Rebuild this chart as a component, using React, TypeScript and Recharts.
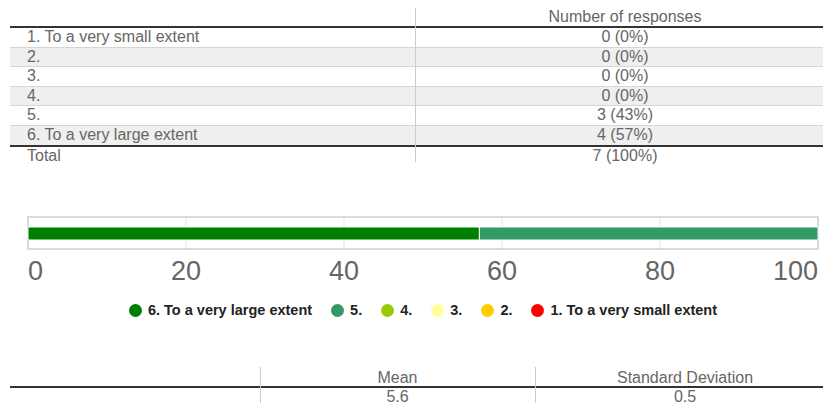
import React from "react";
import {
  BarChart,
  Bar,
  XAxis,
  YAxis,
  CartesianGrid,
  ReferenceArea,
} from "recharts";

// answer options as listed in the table (top to bottom)
const categories = [
  "1. To a very small extent",
  "2.",
  "3.",
  "4.",
  "5.",
  "6. To a very large extent",
];
const responseLabels = ["0 (0%)", "0 (0%)", "0 (0%)", "0 (0%)", "3 (43%)", "4 (57%)"];
const totalLabel = "7 (100%)";

// share of responses in percent, same order as categories
const shares = [0, 0, 0, 0, 42.86, 57.14];
const colors = ["#ff0000", "#ffcc00", "#ffff99", "#99cc00", "#339966", "#008000"];

const xTicks = [0, 20, 40, 60, 80, 100];

const meanLabel = "5.6";
const sdLabel = "0.5";

// stack from option 6 down to option 1
const stackOrder = [5, 4, 3, 2, 1, 0];
const chartRow: Record<string, number | string> = { name: "all" };
stackOrder.forEach((i) => {
  chartRow[`s${i}`] = shares[i];
});
const chartData = [chartRow];

const FONT = "'Liberation Sans', Arial, sans-serif";
const TEXT = "#666";

const AxisTick = ({ x, y, payload, index }: any) => {
  const last = xTicks.length - 1;
  const anchor = index === 0 ? "start" : index === last ? "end" : "middle";
  return (
    <text
      x={x}
      y={y}
      dy={23}
      textAnchor={anchor}
      fill={TEXT}
      fontSize={27}
      fontFamily={FONT}
    >
      {payload.value}
    </text>
  );
};

const ChartLegend = () => (
  <div
    style={{
      display: "flex",
      justifyContent: "center",
      alignItems: "center",
      fontFamily: FONT,
      fontWeight: "bold",
      fontSize: 14.5,
      color: "#222",
    }}
  >
    {stackOrder.map((i) => (
      <div key={i} style={{ display: "flex", alignItems: "center", marginRight: i === 0 ? 0 : 19 }}>
        <span
          style={{
            display: "inline-block",
            width: 13,
            height: 13,
            borderRadius: "50%",
            background: colors[i],
            marginRight: 6,
          }}
        />
        <span>{categories[i]}</span>
      </div>
    ))}
  </div>
);

const cell = (width: number, extra?: React.CSSProperties): React.CSSProperties => ({
  width,
  flexShrink: 0,
  boxSizing: "border-box",
  ...extra,
});

const rowStyle = (i: number): React.CSSProperties => ({
  height: 19.5,
  boxSizing: "border-box",
  borderBottom: i < categories.length - 1 ? "1px solid #d6d6d6" : "none",
  background: i % 2 === 1 ? "#efefef" : "#fff",
  display: "flex",
  alignItems: "center",
  fontSize: 16,
  color: TEXT,
});

export default function App() {
  return (
    <div
      style={{
        position: "absolute",
        left: 0,
        top: 0,
        width: 823,
        height: 403,
        overflow: "hidden",
        background: "#fff",
        fontFamily: FONT,
      }}
    >
      {/* response table */}
      <div style={{ position: "absolute", left: 10, top: 8, width: 813 }}>
        <div style={{ height: 18, display: "flex", alignItems: "center", fontSize: 16, color: TEXT }}>
          <div style={cell(405)} />
          <div style={cell(420, { textAlign: "center" })}>Number of responses</div>
        </div>
        <div style={{ height: 2, background: "#333" }} />
        {categories.map((c, i) => (
          <div key={c} style={rowStyle(i)}>
            <div style={cell(405, { paddingLeft: 17 })}>{c}</div>
            <div style={cell(420, { textAlign: "center" })}>{responseLabels[i]}</div>
          </div>
        ))}
        <div style={{ height: 2, background: "#333" }} />
        <div style={{ height: 18, display: "flex", alignItems: "center", fontSize: 16, color: TEXT }}>
          <div style={cell(405, { paddingLeft: 17 })}>Total</div>
          <div style={cell(420, { textAlign: "center" })}>{totalLabel}</div>
        </div>
      </div>
      <div style={{ position: "absolute", left: 415, top: 8, width: 1, height: 154, background: "#ccc" }} />

      {/* stacked bar */}
      <div style={{ position: "absolute", left: 0, top: 200 }}>
        <BarChart
          width={823}
          height={90}
          data={chartData}
          layout="vertical"
          margin={{ top: 17, right: 5, bottom: 0, left: 28 }}
          barSize={13}
        >
          <CartesianGrid horizontal={false} stroke="#e3e3e3" />
          <XAxis
            type="number"
            domain={[0, 100]}
            ticks={xTicks}
            axisLine={false}
            tickLine={false}
            height={41}
            interval={0}
            tick={<AxisTick />}
          />
          <YAxis type="category" dataKey="name" hide />
          <ReferenceArea x1={0} x2={100} fill="none" stroke="#d0d0d0" strokeWidth={1.5} />
          {stackOrder.map((i) => (
            <Bar
              key={i}
              dataKey={`s${i}`}
              stackId="a"
              fill={colors[i]}
              stroke="#fff"
              strokeWidth={1}
              isAnimationActive={false}
            />
          ))}
        </BarChart>
      </div>

      {/* legend */}
      <div style={{ position: "absolute", left: 28, top: 302, width: 790 }}>
        <ChartLegend />
      </div>

      {/* summary table */}
      <div style={{ position: "absolute", left: 10, top: 369, width: 813, fontSize: 16, color: TEXT }}>
        <div style={{ height: 17, display: "flex", alignItems: "center" }}>
          <div style={cell(250)} />
          <div style={cell(275, { textAlign: "center" })}>Mean</div>
          <div style={cell(300, { textAlign: "center" })}>Standard Deviation</div>
        </div>
        <div style={{ height: 2, background: "#333" }} />
        <div style={{ height: 17, display: "flex", alignItems: "center" }}>
          <div style={cell(250)} />
          <div style={cell(275, { textAlign: "center" })}>{meanLabel}</div>
          <div style={cell(300, { textAlign: "center" })}>{sdLabel}</div>
        </div>
      </div>
      <div style={{ position: "absolute", left: 260, top: 367, width: 1, height: 36, background: "#ccc" }} />
      <div style={{ position: "absolute", left: 535, top: 367, width: 1, height: 36, background: "#ccc" }} />
    </div>
  );
}
